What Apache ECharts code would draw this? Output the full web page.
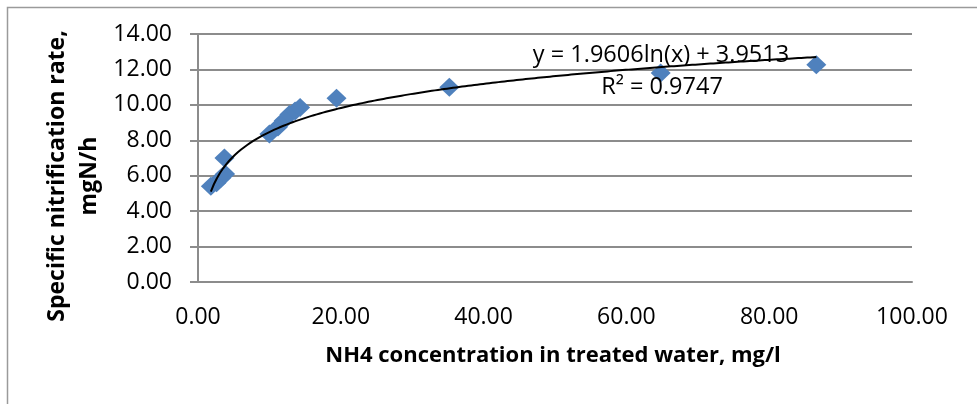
<!DOCTYPE html>
<html>
<head>
<meta charset="utf-8">
<script src="https://cdn.jsdelivr.net/npm/echarts@6/dist/echarts.min.js"></script>
<style>
html,body{margin:0;padding:0;background:#fff;}
#chart{width:977px;height:404px;}
</style>
</head>
<body>
<div id="chart"></div>
<script>
// Data
var xValues = [1.8, 2.6, 3.2, 3.8, 3.7, 10.0, 11.2, 12.0, 12.8, 13.6, 14.3, 19.4, 35.2, 64.8, 86.6];
var yValues = [5.4, 5.6, 5.85, 6.1, 7.0, 8.35, 8.75, 9.1, 9.45, 9.65, 9.85, 10.38, 11.0, 11.8, 12.27];
var xTicks = [0, 20, 40, 60, 80, 100];
var yTicks = [0, 2, 4, 6, 8, 10, 12, 14];
// Logarithmic trendline shown in the reference: y = a*ln(x) + b
var trendA = 1.9606;
var trendB = 3.9513;
var trendR2 = 0.9747;
var xTitle = 'NH4 concentration in treated water, mg/l';
var yTitleLines = ['Specific nitrification rate,', 'mgN/h'];

var points = xValues.map(function (x, i) { return [x, yValues[i]]; });
var xMin = Math.min.apply(null, xValues);
var xMax = Math.max.apply(null, xValues);
var trend = [];
for (var k = 0; k <= 200; k++) {
  var xv = xMin + (xMax - xMin) * k / 200;
  trend.push([xv, trendA * Math.log(xv) + trendB]);
}

var FONT = '"Open Sans", sans-serif';
var chart = echarts.init(document.getElementById('chart'), null, {renderer: 'canvas'});
chart.setOption({
  animation: false,
  backgroundColor: '#ffffff',
  grid: {left: 198, right: 65, top: 34, bottom: 122, containLabel: false},
  xAxis: {
    type: 'value', min: xTicks[0], max: xTicks[xTicks.length - 1], interval: xTicks[1] - xTicks[0],
    axisLine: {show: true, lineStyle: {color: '#8c8c8c', width: 2}},
    axisTick: {show: false},
    splitLine: {show: false},
    axisLabel: {
      margin: 24, color: '#000', fontFamily: FONT, fontSize: 23,
      formatter: function (v) { return v.toFixed(2); }
    }
  },
  yAxis: {
    type: 'value', min: yTicks[0], max: yTicks[yTicks.length - 1], interval: yTicks[1] - yTicks[0],
    axisLine: {show: true, onZero: false, lineStyle: {color: '#8c8c8c', width: 2}},
    axisTick: {show: true, inside: false, length: 8, lineStyle: {color: '#8c8c8c', width: 2}},
    splitLine: {show: true, lineStyle: {color: '#8c8c8c', width: 2}},
    axisLabel: {
      margin: 26, color: '#000', fontFamily: FONT, fontSize: 23,
      formatter: function (v) { return v.toFixed(2); }
    }
  },
  series: [
    {
      type: 'scatter', data: points, symbol: 'diamond', symbolSize: [20, 19],
      itemStyle: {color: '#4f81bd', opacity: 1}, z: 2
    },
    {
      type: 'line', data: trend, showSymbol: false, smooth: false,
      lineStyle: {color: '#000', width: 2}, z: 3, silent: true
    }
  ],
  graphic: [
    {type: 'rect', left: 5, top: 5, shape: {x: 0, y: 0, width: 1000, height: 430},
     style: {fill: 'none', stroke: '#9a9a9a', lineWidth: 1.5}, silent: true, z: -1},
    {type: 'text', x: 553, y: 356,
     style: {text: xTitle, font: 'bold 22px ' + FONT, fill: '#000', textAlign: 'center', textVerticalAlign: 'middle'}},
    {type: 'text', x: 57, y: 176, rotation: Math.PI / 2,
     style: {text: yTitleLines[0], font: 'bold 23px ' + FONT, fill: '#000', textAlign: 'center', textVerticalAlign: 'middle'}},
    {type: 'text', x: 89, y: 176, rotation: Math.PI / 2,
     style: {text: yTitleLines[1], font: 'bold 23px ' + FONT, fill: '#000', textAlign: 'center', textVerticalAlign: 'middle'}},
    {type: 'text', x: 661, y: 55, z: 10,
     style: {text: 'y = ' + trendA + 'ln(x) + ' + trendB, font: '23.5px ' + FONT, fill: '#000', textAlign: 'center', textVerticalAlign: 'middle'}},
    {type: 'text', x: 662, y: 87, z: 10,
     style: {text: 'R² = ' + trendR2, font: '23.5px ' + FONT, fill: '#000', textAlign: 'center', textVerticalAlign: 'middle'}}
  ]
});
</script>
</body>
</html>
